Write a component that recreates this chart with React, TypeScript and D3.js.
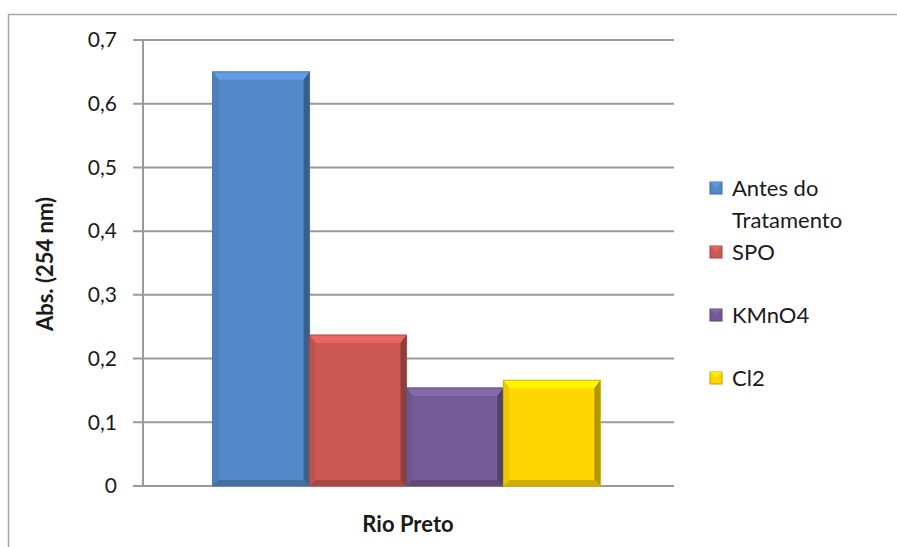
import React from "react";
import * as d3 from "d3";

const categories = ["Rio Preto"];
const seriesNames = ["Antes do Tratamento", "SPO", "KMnO4", "Cl2"];
const seriesValues = [0.65, 0.237, 0.154, 0.166];
const seriesColors = ["#5588c8", "#cd5955", "#745b95", "#fed700"];
const yTicks = [0, 0.1, 0.2, 0.3, 0.4, 0.5, 0.6, 0.7];
const legendLines = [["Antes do", "Tratamento"], ["SPO"], ["KMnO4"], ["Cl2"]];

const W = 897;
const H = 547;
const plot = { left: 143, right: 674, top: 40, bottom: 486 };
const FONT = "Lato, 'Open Sans', sans-serif";

function shade(c: string, k: number) {
  const col = d3.color(c)!;
  return k > 0 ? col.brighter(k).formatHex() : col.darker(-k).formatHex();
}

export default function App() {
  const y = d3.scaleLinear().domain([0, 0.7]).range([plot.bottom, plot.top]);
  const xCat = d3
    .scaleBand<string>()
    .domain(categories)
    .range([plot.left - 4, plot.right])
    .paddingOuter(0.19)
    .paddingInner(0);
  const xSer = d3
    .scaleBand<string>()
    .domain(seriesNames)
    .range([0, xCat.bandwidth()])
    .padding(0);

  const fmt = (v: number) => (v === 0 ? "0" : d3.format(".1f")(v).replace(".", ","));

  const legendY = [188, 252, 315, 378];

  return (
    <svg
      width={W}
      height={H}
      style={{ position: "absolute", left: 0, top: 0, display: "block", background: "#fff" }}
    >
      <rect x={8.5} y={14.5} width={W} height={H} fill="#fff" stroke="#a6a6a6" strokeWidth={1.5} />
      {/* gridlines */}
      {yTicks.map((t) => (
        <g key={t}>
          <line
            x1={plot.left - 10}
            x2={plot.right}
            y1={y(t)}
            y2={y(t)}
            stroke="#9a9a9a"
            strokeWidth={2}
          />
          <text
            x={117}
            y={y(t)}
            dy="0.35em"
            textAnchor="end"
            fontFamily={FONT}
            fontSize={21}
            fill="#1a1a1a"
          >
            {fmt(t)}
          </text>
        </g>
      ))}
      <line x1={plot.left} x2={plot.left} y1={plot.top - 1} y2={plot.bottom} stroke="#9a9a9a" strokeWidth={2} />

      {/* bars */}
      {categories.map((cat) =>
        seriesNames.map((s, i) => {
          const x0 = (xCat(cat) ?? 0) + (xSer(s) ?? 0);
          const w = xSer.bandwidth();
          const y0 = y(seriesValues[i]);
          const y1 = y(0);
          const x1 = x0 + w;
          const c = seriesColors[i];
          const b = 6;
          const bt = 8;
          return (
            <g key={s}>
              <rect x={x0} y={y0} width={w} height={y1 - y0} fill={c} />
              {/* top bevel */}
              <polygon
                points={`${x0},${y0} ${x1},${y0} ${x1 - b},${y0 + bt} ${x0 + b},${y0 + bt}`}
                fill={shade(c, 0.4)}
              />
              {/* left bevel */}
              <polygon
                points={`${x0},${y0} ${x0 + b},${y0 + bt} ${x0 + b},${y1 - b} ${x0},${y1}`}
                fill={shade(c, -0.2)}
              />
              {/* right bevel */}
              <polygon
                points={`${x1},${y0} ${x1 - b},${y0 + bt} ${x1 - b},${y1 - b} ${x1},${y1}`}
                fill={shade(c, -1.0)}
              />
              {/* bottom bevel */}
              <polygon
                points={`${x0},${y1} ${x0 + b},${y1 - b} ${x1 - b},${y1 - b} ${x1},${y1}`}
                fill={shade(c, -0.6)}
              />
              <rect x={x0} y={y0} width={w} height={y1 - y0} fill="none" stroke={shade(c, -0.5)} strokeWidth={1} />
            </g>
          );
        })
      )}

      {/* axis titles */}
      <text
        x={408}
        y={532}
        textAnchor="middle"
        fontFamily={FONT}
        fontWeight="bold"
        fontSize={22}
        fill="#1a1a1a"
      >
        {categories[0]}
      </text>
      <text
        transform={`translate(53,264) rotate(-90)`}
        textAnchor="middle"
        fontFamily={FONT}
        fontWeight="bold"
        fontSize={22}
        fill="#1a1a1a"
      >
        Abs. (254 nm)
      </text>

      {/* legend */}
      {seriesNames.map((s, i) => (
        <g key={s}>
          <rect x={710} y={legendY[i] - 6} width={12} height={12} fill={seriesColors[i]} stroke={shade(seriesColors[i], -0.8)} strokeWidth={1} />
          <polygon
            points={`${710},${legendY[i] - 6} ${722},${legendY[i] - 6} ${716},${legendY[i]}`}
            fill={shade(seriesColors[i], 0.3)}
          />
          {legendLines[i].map((ln, j) => (
            <text
              key={j}
              x={732}
              y={legendY[i] + j * 32}
              dy="0.35em"
              fontFamily={FONT}
              fontSize={22}
              fill="#1a1a1a"
            >
              {ln}
            </text>
          ))}
        </g>
      ))}
    </svg>
  );
}
